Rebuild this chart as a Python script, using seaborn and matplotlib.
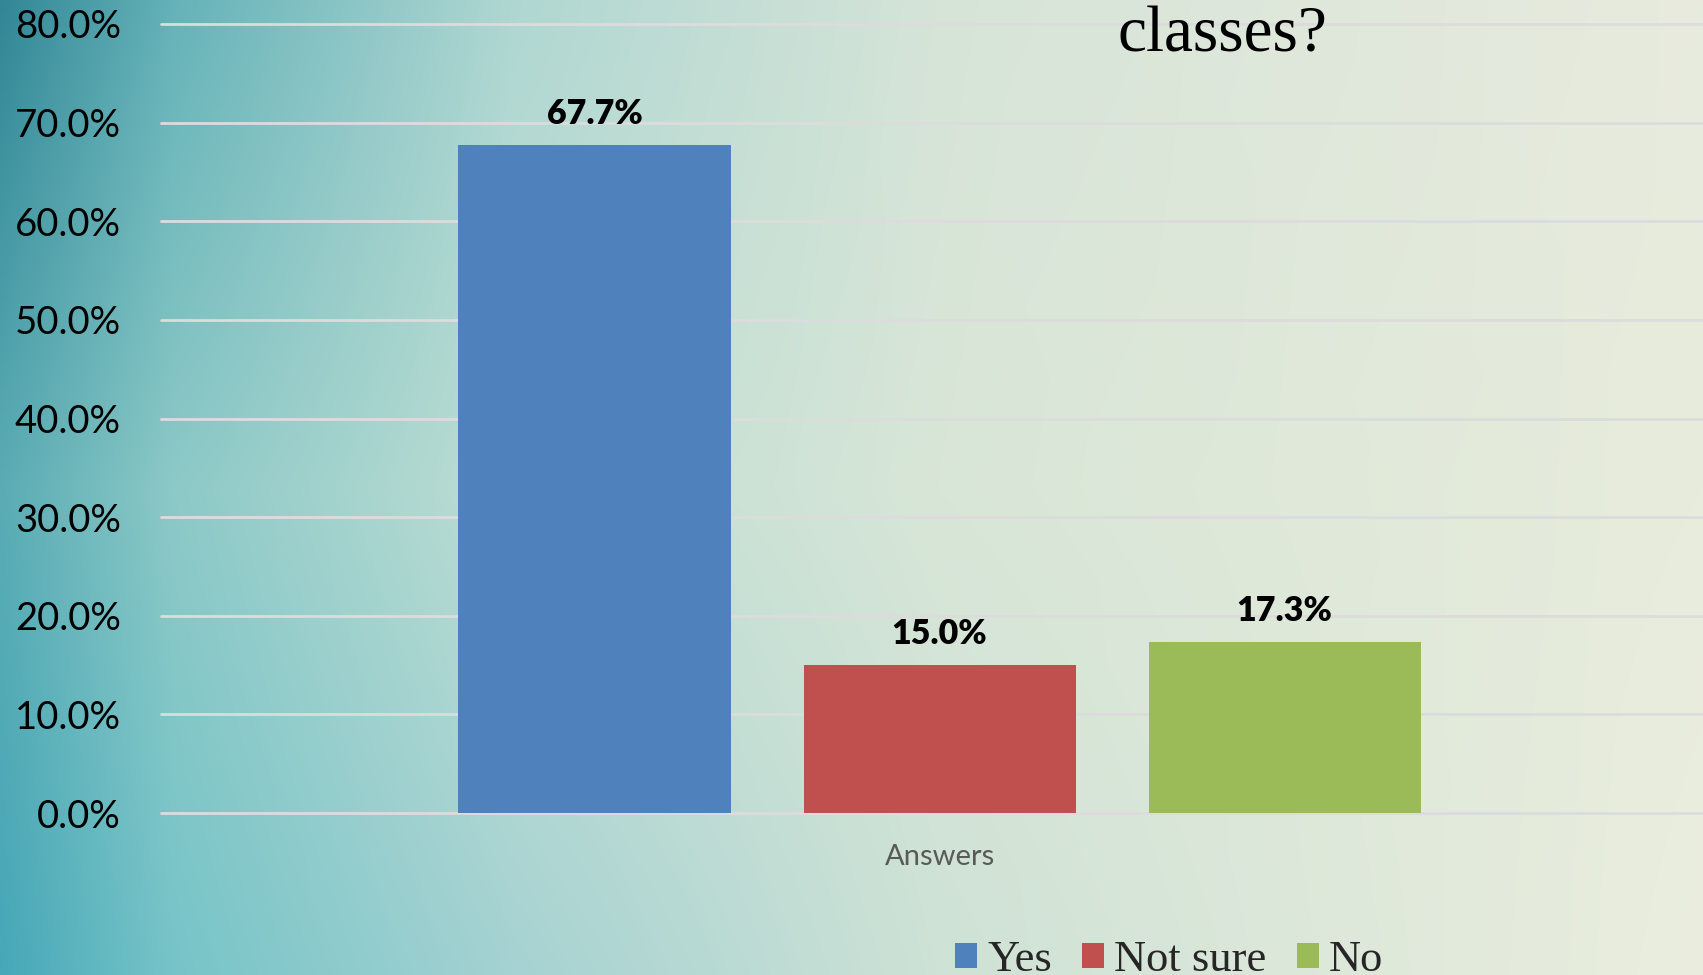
import numpy as np
import pandas as pd
import matplotlib
matplotlib.use("Agg")
import matplotlib.pyplot as plt
import seaborn as sns
from matplotlib.ticker import PercentFormatter

# ---- data ----
category = ["Answers"]
answers = ["Yes", "Not sure", "No"]
shares = [0.677, 0.150, 0.173]
colors = ["#4F81BD", "#C0504D", "#9BBB59"]
y_ticks = [0.0, 0.1, 0.2, 0.3, 0.4, 0.5, 0.6, 0.7, 0.8]
title_text = "classes?"

df = pd.DataFrame({"Category": category * len(answers), "Answer": answers, "Share": shares})

sns.set_theme(style="white")
plt.rcParams["font.family"] = ["Lato", "DejaVu Sans"]

W, H = 1703, 975
fig = plt.figure(figsize=(W / 100, H / 100), dpi=100)

# ---- background gradient (styling) ----
bg = fig.add_axes([0, 0, 1, 1], zorder=-10)
bg.set_axis_off()
xs = [0.0, 0.1, 0.3, 0.55, 1.0]
cols = [
    [(50, 135, 150), (90, 172, 180), (70, 168, 184)],
    [(100, 178, 184), (140, 201, 199), (118, 196, 200)],
    [(175, 215, 210), (190, 222, 212), (165, 210, 210)],
    [(214, 228, 216), (216, 230, 215), (206, 226, 214)],
    [(232, 235, 222), (232, 236, 220), (235, 238, 222)],
]
nx, ny = 400, 240
gx = np.linspace(0, 1, nx)
gy = np.linspace(0, 1, ny)
img = np.zeros((ny, nx, 3))
colarr = np.array(cols, dtype=float) / 255.0
ystops = [0.0, 0.5, 1.0]
tmp = np.zeros((len(xs), ny, 3))
for i in range(len(xs)):
    for c in range(3):
        tmp[i, :, c] = np.interp(gy, ystops, colarr[i, :, c])
for j in range(ny):
    for c in range(3):
        img[j, :, c] = np.interp(gx, xs, tmp[:, j, c])
bg.imshow(img, aspect="auto", extent=[0, 1, 0, 1], origin="upper", interpolation="bicubic")
bg.set_xlim(0, 1)
bg.set_ylim(0, 1)

# ---- main axes ----
ax = fig.add_axes([161 / W, 1 - 813 / H, 1 - 161 / W, (813 - 24) / H])
ax.set_facecolor("none")
sns.barplot(data=df, x="Category", y="Share", hue="Answer", hue_order=answers,
            palette=colors, width=0.8, gap=0.2116, saturation=1, ax=ax,
            edgecolor="none", linewidth=0, zorder=3)
ax.set_xlim(-0.6017, 0.590)
ax.set_ylim(0, 0.8)
ax.set_yticks(y_ticks)
ax.yaxis.set_major_formatter(PercentFormatter(1.0, decimals=1))
ax.grid(axis="y", color="#dcdcdc", linewidth=2.0, zorder=0)
for gl in ax.get_ygridlines():
    gl.set_clip_on(False)
ax.grid(axis="x", visible=False)
for s in ax.spines.values():
    s.set_visible(False)
ax.tick_params(axis="y", length=0, pad=29, labelsize=27.5, labelcolor="black")
ax.tick_params(axis="x", length=0, pad=22, labelsize=21, labelcolor="#595959")
ax.set_xlabel("")
ax.set_ylabel("")

for cont in ax.containers:
    vals = [b.get_height() for b in cont]
    ax.bar_label(cont, labels=[f"{v*100:.1f}%" for v in vals], padding=11,
                 fontsize=24.5, fontweight="heavy", color="black")

# ---- legend ----
sns.move_legend(ax, loc="center", bbox_to_anchor=(1169 / W, 1 - 960 / H),
                bbox_transform=fig.transFigure, ncol=3, frameon=False, title=None,
                prop={"family": "Liberation Serif", "size": 32},
                handlelength=0.5, handleheight=0.5, handletextpad=0.22,
                columnspacing=0.68, borderpad=0, borderaxespad=0)

# ---- title fragment ----
fig.text(1222 / W, 1 - 52 / H, title_text, ha="center", va="baseline",
         fontsize=47, family="Liberation Serif", color="black")

fig.savefig("out.png", dpi=100)
